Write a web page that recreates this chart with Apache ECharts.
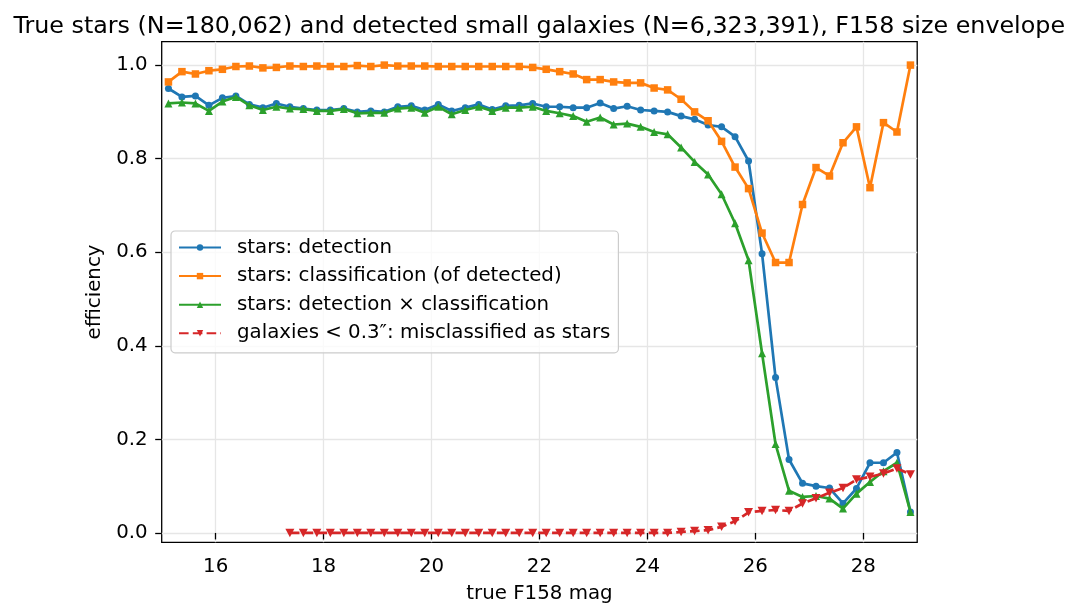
<!DOCTYPE html>
<html>
<head>
<meta charset="utf-8">
<script src="https://cdn.jsdelivr.net/npm/echarts@6/dist/echarts.min.js"></script>
<style>
html,body{margin:0;padding:0;background:#fff;}
#chart{width:1077px;height:613px;}
</style>
</head>
<body>
<div id="chart"></div>
<script>
// bin centres (true F158 mag)
const mags = [15.125,15.375,15.625,15.875,16.125,16.375,16.625,16.875,17.125,17.375,
  17.625,17.875,18.125,18.375,18.625,18.875,19.125,19.375,19.625,19.875,
  20.125,20.375,20.625,20.875,21.125,21.375,21.625,21.875,22.125,22.375,
  22.625,22.875,23.125,23.375,23.625,23.875,24.125,24.375,24.625,24.875,
  25.125,25.375,25.625,25.875,26.125,26.375,26.625,26.875,27.125,27.375,
  27.625,27.875,28.125,28.375,28.625,28.875];

const starDetection = [0.950,0.932,0.934,0.914,0.930,0.934,0.916,0.909,0.918,0.911,
  0.907,0.904,0.904,0.907,0.900,0.902,0.900,0.911,0.913,0.904,
  0.916,0.902,0.909,0.916,0.905,0.913,0.914,0.918,0.911,0.911,
  0.909,0.909,0.919,0.907,0.912,0.904,0.902,0.900,0.891,0.884,
  0.872,0.868,0.847,0.795,0.597,0.332,0.157,0.106,0.100,0.096,
  0.063,0.095,0.150,0.150,0.172,0.045];

const starClassification = [0.964,0.986,0.981,0.988,0.991,0.997,0.998,0.994,0.995,0.998,
  0.997,0.998,0.997,0.997,0.999,0.997,1.000,0.998,0.998,0.998,
  0.997,0.997,0.997,0.997,0.997,0.997,0.997,0.995,0.991,0.986,
  0.981,0.969,0.969,0.964,0.962,0.962,0.951,0.947,0.927,0.900,
  0.881,0.837,0.782,0.736,0.641,0.578,0.578,0.702,0.781,0.763,
  0.834,0.868,0.738,0.877,0.857,1.000];

const starDetXClass = [0.918,0.920,0.918,0.902,0.922,0.932,0.914,0.904,0.911,0.907,
  0.906,0.902,0.902,0.906,0.897,0.898,0.898,0.907,0.909,0.898,
  0.911,0.895,0.904,0.911,0.902,0.909,0.909,0.911,0.902,0.897,
  0.891,0.879,0.888,0.873,0.875,0.868,0.857,0.852,0.824,0.793,
  0.766,0.724,0.662,0.583,0.384,0.190,0.090,0.077,0.079,0.0735,
  0.052,0.084,0.109,0.132,0.150,0.045];

const galaxyMisclass = [null,null,null,null,null,null,null,null,null,0.000,
  0.000,0.000,0.000,0.000,0.000,0.000,0.000,0.000,0.000,0.000,
  0.000,0.000,0.000,0.000,0.000,0.000,0.000,0.000,0.000,0.000,
  0.000,0.000,0.000,0.000,0.000,0.000,0.000,0.000,0.002,0.004,
  0.006,0.013,0.025,0.044,0.047,0.049,0.047,0.063,0.074,0.086,
  0.096,0.114,0.120,0.127,0.138,0.125];

const xTicks = [16,18,20,22,24,26,28];
const yTicks = [0.0,0.2,0.4,0.6,0.8,1.0];

const seriesNames = [
  'stars: detection',
  'stars: classification (of detected)',
  'stars: detection \u00d7 classification',
  'galaxies < 0.3\u2033: misclassified as stars'
];

function pairs(vals){
  const out = [];
  for (let i = 0; i < mags.length; i++) {
    if (vals[i] !== null) out.push([mags[i], vals[i]]);
  }
  return out;
}

const FONT = 'DejaVu Sans';
const FS = 19.8;
const LW = 2.7;
const chart = echarts.init(document.getElementById('chart'), null, {renderer:'canvas'});

const option = {
  animation: false,
  backgroundColor: '#ffffff',
  textStyle: {fontFamily: FONT},
  title: {
    text: 'True stars (N=180,062) and detected small galaxies (N=6,323,391), F158 size envelope',
    left: 534.2,
    textAlign: 'center',
    top: 8,
    textStyle: {fontFamily: FONT, fontSize: 23.8, fontWeight: 'normal', color: '#000', lineHeight: 28}
  },
  grid: {
    left: 161.7, right: 159.8, top: 41.7, bottom: 70.7,
    show: true, borderColor: '#000', borderWidth: 1.3, backgroundColor: 'transparent'
  },
  legend: {
    orient: 'vertical',
    left: 171, top: 231,
    padding: [5, 8, 8, 7],
    itemWidth: 42, itemHeight: 8, itemGap: 5.6,
    backgroundColor: 'rgba(255,255,255,0.8)',
    borderColor: '#cccccc', borderWidth: 1.2, borderRadius: 4,
    textStyle: {fontFamily: FONT, fontSize: FS, color: '#000', lineHeight: 23, padding: [0,0,0,11]},
    data: seriesNames
  },
  xAxis: {
    type: 'value', min: 15, max: 29,
    name: 'true F158 mag', nameLocation: 'middle', nameGap: 42,
    nameTextStyle: {fontFamily: FONT, fontSize: FS, color: '#000'},
    axisLine: {show: false},
    axisTick: {show: true, length: 6.5, inside: false, customValues: xTicks, lineStyle: {color: '#000', width: 1.3}},
    axisLabel: {customValues: xTicks, margin: 15, fontFamily: FONT, fontSize: FS, color: '#000',
      formatter: v => String(v)},
    splitLine: {show: true, lineStyle: {color: '#e6e6e6', width: 1.3}}
  },
  yAxis: {
    type: 'value', min: -0.02, max: 1.05,
    name: 'efficiency', nameLocation: 'middle', nameGap: 52, nameRotate: 90,
    nameTextStyle: {fontFamily: FONT, fontSize: FS, color: '#000'},
    axisLine: {show: false},
    axisTick: {show: true, length: 6.5, inside: false, customValues: yTicks, lineStyle: {color: '#000', width: 1.3}},
    axisLabel: {customValues: yTicks, margin: 14, fontFamily: FONT, fontSize: FS, color: '#000',
      formatter: v => v.toFixed(1)},
    splitLine: {show: true, lineStyle: {color: '#e6e6e6', width: 1.3}}
  },
  series: [
    {
      name: seriesNames[0], type: 'line', data: pairs(starDetection),
      symbol: 'circle', symbolSize: 7, showAllSymbol: true,
      itemStyle: {color: '#1f77b4'}, lineStyle: {color: '#1f77b4', width: LW}, z: 2
    },
    {
      name: seriesNames[1], type: 'line', data: pairs(starClassification),
      symbol: 'rect', symbolSize: 7.5, showAllSymbol: true,
      itemStyle: {color: '#ff7f0e'}, lineStyle: {color: '#ff7f0e', width: LW}, z: 3
    },
    {
      name: seriesNames[2], type: 'line', data: pairs(starDetXClass),
      symbol: 'triangle', symbolSize: 8, showAllSymbol: true,
      itemStyle: {color: '#2ca02c'}, lineStyle: {color: '#2ca02c', width: LW}, z: 4
    },
    {
      name: seriesNames[3], type: 'line', data: pairs(galaxyMisclass),
      symbol: 'path://M0,0 L10,0 L5,9 Z', symbolSize: [9, 8.5], showAllSymbol: true,
      itemStyle: {color: '#d62728'}, lineStyle: {color: '#d62728', width: LW, type: [9.6, 4.2]}, z: 5
    }
  ]
};
chart.setOption(option);
</script>
</body>
</html>
